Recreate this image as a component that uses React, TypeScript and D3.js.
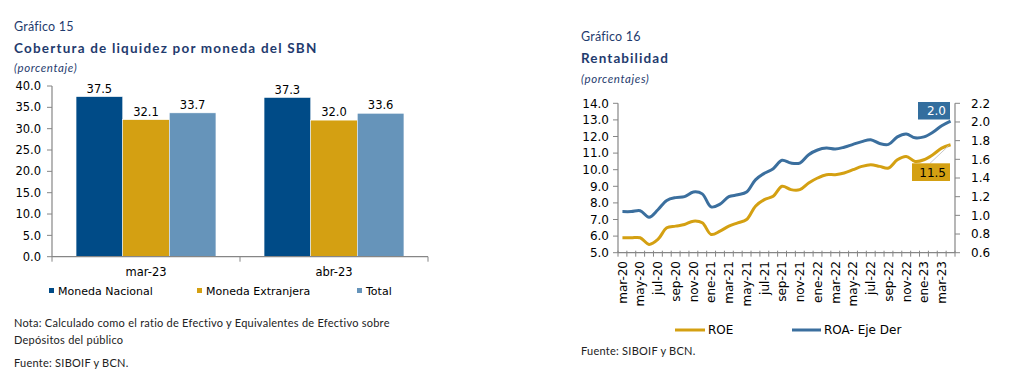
import React from 'react';
import * as d3 from 'd3';

// Gráfico 15
const periods = ['mar-23', 'abr-23'];
const currencies = ['Moneda Nacional', 'Moneda Extranjera', 'Total'];
const nacional = [37.5, 37.3];
const extranjera = [32.1, 32.0];
const total = [33.7, 33.6];
const barTicks = [0, 5, 10, 15, 20, 25, 30, 35, 40];

// Gráfico 16
const months = [
  'mar-20', 'abr-20', 'may-20', 'jun-20', 'jul-20', 'ago-20', 'sep-20', 'oct-20', 'nov-20', 'dic-20',
  'ene-21', 'feb-21', 'mar-21', 'abr-21', 'may-21', 'jun-21', 'jul-21', 'ago-21', 'sep-21', 'oct-21',
  'nov-21', 'dic-21', 'ene-22', 'feb-22', 'mar-22', 'abr-22', 'may-22', 'jun-22', 'jul-22', 'ago-22',
  'sep-22', 'oct-22', 'nov-22', 'dic-22', 'ene-23', 'feb-23', 'mar-23', 'abr-23'
];
const roe = [
  5.9, 5.9, 5.9, 5.5, 5.8, 6.5, 6.6, 6.7, 6.9, 6.8,
  6.1, 6.3, 6.6, 6.8, 7.0, 7.8, 8.2, 8.4, 9.0, 8.8,
  8.8, 9.2, 9.5, 9.7, 9.7, 9.8, 10.0, 10.2, 10.3, 10.2,
  10.1, 10.6, 10.8, 10.5, 10.6, 10.9, 11.3, 11.5
];
const roa = [
  1.04, 1.04, 1.05, 0.98, 1.06, 1.16, 1.19, 1.20, 1.25, 1.23,
  1.09, 1.12, 1.20, 1.22, 1.25, 1.38, 1.45, 1.50, 1.59, 1.56,
  1.56, 1.65, 1.70, 1.72, 1.71, 1.73, 1.76, 1.79, 1.81, 1.77,
  1.76, 1.84, 1.87, 1.83, 1.84, 1.89, 1.96, 2.01
];
const roeTicks = [5, 6, 7, 8, 9, 10, 11, 12, 13, 14];
const roaTicks = [0.6, 0.8, 1.0, 1.2, 1.4, 1.6, 1.8, 2.0, 2.2];

const navy = '#1f3b6e';
const cDark = '#004b87';
const cGold = '#d4a012';
const cLight = '#6694ba';
const cLine = '#3b6f9e';
const axisCol = '#868686';
const titleFont = 'Lato, "Open Sans", sans-serif';
const numFont = '"DejaVu Sans", Verdana, sans-serif';

// small notes / subtitles in the reference use a wide geometric face
const noteProps = { fontFamily: titleFont, fontSize: 11, letterSpacing: 0.25, fill: '#222' };
const subProps = { fontFamily: titleFont, fontSize: 11.5, fontStyle: 'italic', letterSpacing: 0.6, fill: navy };

function BarChart() {
  const series = [nacional, extranjera, total];
  const colors = [cDark, cGold, cLight];
  const x0 = d3.scaleBand().domain(periods).range([52, 428]);
  const bw = x0.bandwidth();
  const x1 = d3.scaleBand().domain(currencies).range([bw * 0.128, bw * 0.872]);
  const y = d3.scaleLinear().domain([0, 40]).range([256.7, 86]);
  const legendX = [49, 197, 357];

  return (
    <g>
      <text x={14} y={31} fontFamily={titleFont} fontSize={12.5} fill={navy} letterSpacing={0.2}>Gráfico 15</text>
      <text x={14} y={53} fontFamily={titleFont} fontSize={13.5} fontWeight="bold" fill={navy} letterSpacing={1.2}>
        Cobertura de liquidez por moneda del SBN
      </text>
      <text x={14} y={72} {...subProps}>(porcentaje)</text>

      {barTicks.map(t => (
        <g key={t}>
          <line x1={47} x2={52} y1={y(t)} y2={y(t)} stroke={axisCol} />
          <text x={41} y={y(t)} dy="0.36em" textAnchor="end" fontFamily={numFont} fontSize={11.5} fill="#000">
            {t.toFixed(1)}
          </text>
        </g>
      ))}

      {periods.map((p, i) => (
        <g key={p}>
          {series.map((s, j) => (
            <g key={j}>
              <rect x={x0(p)! + x1(currencies[j])!} y={y(s[i])} width={x1.bandwidth()}
                height={y(0) - y(s[i])} fill={colors[j]} stroke="#fff" strokeWidth={0.5} />
              <text x={x0(p)! + x1(currencies[j])! + x1.bandwidth() / 2} y={y(s[i]) - 4}
                textAnchor="middle" fontFamily={numFont} fontSize={11.5} fill="#000">
                {s[i].toFixed(1)}
              </text>
            </g>
          ))}
          <text x={x0(p)! + bw / 2} y={276} textAnchor="middle" fontFamily={numFont} fontSize={11.5} fill="#000">{p}</text>
        </g>
      ))}

      <line x1={52} x2={52} y1={86} y2={y(0)} stroke={axisCol} strokeWidth={1.2} />
      <line x1={52} x2={428} y1={y(0)} y2={y(0)} stroke={axisCol} strokeWidth={1.2} />
      {[...periods.map(p => x0(p)!), 428].map((xx, i) => (
        <line key={i} x1={xx} x2={xx} y1={y(0)} y2={y(0) + 5} stroke={axisCol} />
      ))}

      {currencies.map((c, i) => (
        <g key={c}>
          <rect x={legendX[i]} y={288} width={5} height={5} fill={colors[i]} />
          <text x={legendX[i] + 9} y={295} fontFamily={numFont} fontSize={11} fill="#000">{c}</text>
        </g>
      ))}

      <text x={14} y={327} {...noteProps}>
        Nota: Calculado como el ratio de Efectivo y Equivalentes de Efectivo sobre
      </text>
      <text x={14} y={344} {...noteProps}>Depósitos del público</text>
      <text x={14} y={367} {...noteProps}>Fuente: SIBOIF y BCN.</text>
    </g>
  );
}

function LineChart() {
  const x = d3.scaleBand().domain(months).range([618, 955]);
  const cx = (m: string) => x(m)! + x.bandwidth() / 2;
  const yL = d3.scaleLinear().domain([5, 14]).range([252.7, 103.3]);
  const yR = d3.scaleLinear().domain([0.6, 2.2]).range([252.7, 103.3]);
  const curve = d3.curveCatmullRom;
  const roeLine = d3.line<number>().x((_, i) => cx(months[i])).y(d => yL(d)).curve(curve);
  const roaLine = d3.line<number>().x((_, i) => cx(months[i])).y(d => yR(d)).curve(curve);
  const last = months.length - 1;
  const endX = cx(months[last]);

  return (
    <g>
      <text x={581} y={41} fontFamily={titleFont} fontSize={12.5} fill={navy} letterSpacing={0.2}>Gráfico 16</text>
      <text x={581} y={63} fontFamily={titleFont} fontSize={13.5} fontWeight="bold" fill={navy} letterSpacing={1.1}>Rentabilidad</text>
      <text x={581} y={83} {...subProps}>(porcentajes)</text>

      {roeTicks.map(t => (
        <g key={t}>
          <line x1={613} x2={618} y1={yL(t)} y2={yL(t)} stroke={axisCol} />
          <text x={609} y={yL(t)} dy="0.36em" textAnchor="end" fontFamily={numFont} fontSize={12} fill="#000">{t.toFixed(1)}</text>
        </g>
      ))}
      {roaTicks.map(t => (
        <g key={t}>
          <line x1={955} x2={960} y1={yR(t)} y2={yR(t)} stroke={axisCol} />
          <text x={971} y={yR(t)} dy="0.36em" fontFamily={numFont} fontSize={12} fill="#000">{t.toFixed(1)}</text>
        </g>
      ))}
      <line x1={618} x2={618} y1={103.3} y2={252.7} stroke={axisCol} strokeWidth={1.2} />
      <line x1={955} x2={955} y1={103.3} y2={252.7} stroke={axisCol} strokeWidth={1.2} />
      <line x1={618} x2={955} y1={252.7} y2={252.7} stroke={axisCol} strokeWidth={1.2} />
      {[...months.map(m => x(m)!), 955].map((xx, i) => (
        <line key={i} x1={xx} x2={xx} y1={250.7} y2={256.7} stroke={axisCol} />
      ))}
      {months.map((m, i) => i % 2 === 0 ? (
        <text key={m} transform={`translate(${cx(m)},261) rotate(-90)`} dy="0.36em" textAnchor="end"
          fontFamily={numFont} fontSize={12} fill="#000">{m}</text>
      ) : null)}

      <path d={roeLine(roe)!} fill="none" stroke={cGold} strokeWidth={3} />
      <path d={roaLine(roa)!} fill="none" stroke={cLine} strokeWidth={3} />

      <rect x={918} y={102} width={32} height={17.5} fill="#336e9e" />
      <text x={946} y={110.8} dy="0.36em" textAnchor="end" fontFamily={numFont} fontSize={12} fill="#fff">
        {roa[last].toFixed(1)}
      </text>
      <line x1={930} y1={163.3} x2={endX - 2} y2={yL(roe[last]) + 1} stroke="#c8c8c8" strokeWidth={1} />
      <rect x={912} y={163.3} width={38} height={17.7} fill="#d4a012" />
      <text x={946} y={172.2} dy="0.36em" textAnchor="end" fontFamily={numFont} fontSize={12} fill="#000">
        {roe[last].toFixed(1)}
      </text>

      <line x1={675} x2={705} y1={330} y2={330} stroke={cGold} strokeWidth={3} />
      <text x={708} y={330} dy="0.36em" fontFamily={numFont} fontSize={12} fill="#000">ROE</text>
      <line x1={792} x2={821} y1={330} y2={330} stroke={cLine} strokeWidth={3} />
      <text x={824} y={330} dy="0.36em" fontFamily={numFont} fontSize={12} fill="#000">ROA- Eje Der</text>

      <text x={581} y={355} {...noteProps}>Fuente: SIBOIF y  BCN.</text>
    </g>
  );
}

export default function App() {
  return (
    <svg width={1025} height={391} style={{ position: 'absolute', left: 0, top: 0, background: '#fff' }}>
      <BarChart />
      <LineChart />
    </svg>
  );
}
